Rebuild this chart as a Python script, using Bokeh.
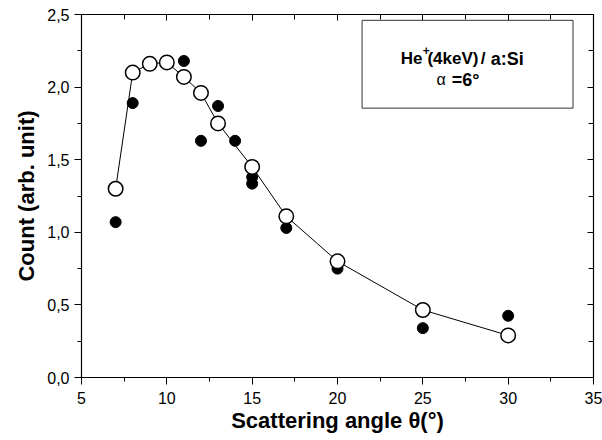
from bokeh.plotting import figure
from bokeh.models import (LinearAxis, SingleIntervalTicker, CustomJSTickFormatter,
                          BoxAnnotation, Label, Range1d)
from bokeh.embed import file_html
from bokeh.resources import INLINE

# Data
open_x = [7, 8, 9, 10, 11, 12, 13, 15, 17, 20, 25, 30]
open_y = [1.30, 2.10, 2.16, 2.17, 2.07, 1.96, 1.75, 1.45, 1.11, 0.80, 0.465, 0.29]
filled_x = [7, 8, 11, 12, 13, 14, 15, 15, 17, 20, 25, 30]
filled_y = [1.07, 1.89, 2.18, 1.63, 1.87, 1.63, 1.38, 1.335, 1.03, 0.75, 0.34, 0.425]

x_title = "Scattering angle \u03b8(\u00b0)"
y_title = "Count (arb. unit)"
box_parts_line1 = ["He", "+", "(4keV)", "/", "a:Si"]
box_parts_line2 = ["\u03b1", "=6\u00b0"]

FONT = "Liberation Sans"

p = figure(width=602, height=440, output_backend="svg", toolbar_location=None,
           x_range=Range1d(5, 35), y_range=Range1d(0, 2.5),
           min_border_left=81, min_border_right=9, min_border_top=14, min_border_bottom=63)
p.xgrid.visible = False
p.ygrid.visible = False
p.outline_line_color = None
p.background_fill_color = "white"
p.border_fill_color = "white"

xticker = SingleIntervalTicker(interval=5, num_minor_ticks=2)
yticker = SingleIntervalTicker(interval=0.5, num_minor_ticks=2)

xfmt = CustomJSTickFormatter(code="return tick.toFixed(0);")
yfmt = CustomJSTickFormatter(code="return tick.toFixed(1).replace('.', ',');")

def style_main(ax, fmt, ticker):
    ax.ticker = ticker
    ax.formatter = fmt
    ax.axis_line_color = "black"
    ax.axis_line_width = 1.2
    ax.major_tick_line_color = "black"
    ax.minor_tick_line_color = "black"
    ax.major_tick_out = 7
    ax.major_tick_in = 0
    ax.minor_tick_out = 4
    ax.minor_tick_in = 0
    ax.major_label_text_font = FONT
    ax.major_label_text_font_size = "16px"
    ax.major_label_text_color = "black"
    ax.axis_label_text_font = FONT
    ax.axis_label_text_font_size = "22px"
    ax.axis_label_text_font_style = "bold"
    ax.axis_label_text_color = "black"

xa = p.xaxis[0]
ya = p.yaxis[0]
style_main(xa, xfmt, xticker)
style_main(ya, yfmt, yticker)
xa.axis_label = x_title
ya.axis_label = y_title
xa.major_label_standoff = 7
xa.axis_label_standoff = 1
ya.major_label_standoff = 5
ya.axis_label_standoff = 5

empty_fmt = CustomJSTickFormatter(code="return '';")

def mirror_axis(ticker):
    ax = LinearAxis(ticker=ticker, formatter=empty_fmt)
    ax.major_label_text_font_size = "8px"
    ax.major_label_standoff = 0
    ax.axis_line_color = "black"
    ax.axis_line_width = 1.2
    ax.major_tick_in = 6
    ax.major_tick_out = 0
    ax.minor_tick_in = 5
    ax.minor_tick_out = 0
    ax.major_tick_line_color = "black"
    ax.minor_tick_line_color = "black"
    return ax

p.add_layout(mirror_axis(SingleIntervalTicker(interval=5, num_minor_ticks=2)), "above")
p.add_layout(mirror_axis(SingleIntervalTicker(interval=0.5, num_minor_ticks=2)), "right")

# filled points
p.scatter(filled_x, filled_y, size=11, marker="circle", fill_color="black", line_color="black")
# connecting line and open circles
p.line(open_x, open_y, line_color="black", line_width=1)
p.scatter(open_x, open_y, size=14.5, marker="circle", fill_color="white",
          line_color="black", line_width=1.5)

# annotation box
p.add_layout(BoxAnnotation(left=21.44, right=33.8, bottom=1.855, top=2.46,
                           fill_color="white", fill_alpha=1.0,
                           line_color="#333333", line_width=1, line_alpha=1.0))

def lab(x, y, t, size, style="bold"):
    p.add_layout(Label(x=x, y=y, text=t, text_font=FONT, text_font_size=size,
                       text_font_style=style, text_color="black",
                       text_baseline="alphabetic", text_align="left"))

# line 1 pieces (x positions in data units of the frame)
lab(23.70, 2.196, box_parts_line1[0], "17px")
lab(24.99, 2.25, box_parts_line1[1], "12px")
lab(25.27, 2.196, box_parts_line1[2], "17px")
lab(28.40, 2.196, box_parts_line1[3], "17px")
lab(28.98, 2.196, box_parts_line1[4], "18px")
# line 2
lab(25.80, 2.05, box_parts_line2[0], "16px", "normal")
lab(26.70, 2.05, box_parts_line2[1], "18px")

open("out.html", "w").write(file_html(p, INLINE))
